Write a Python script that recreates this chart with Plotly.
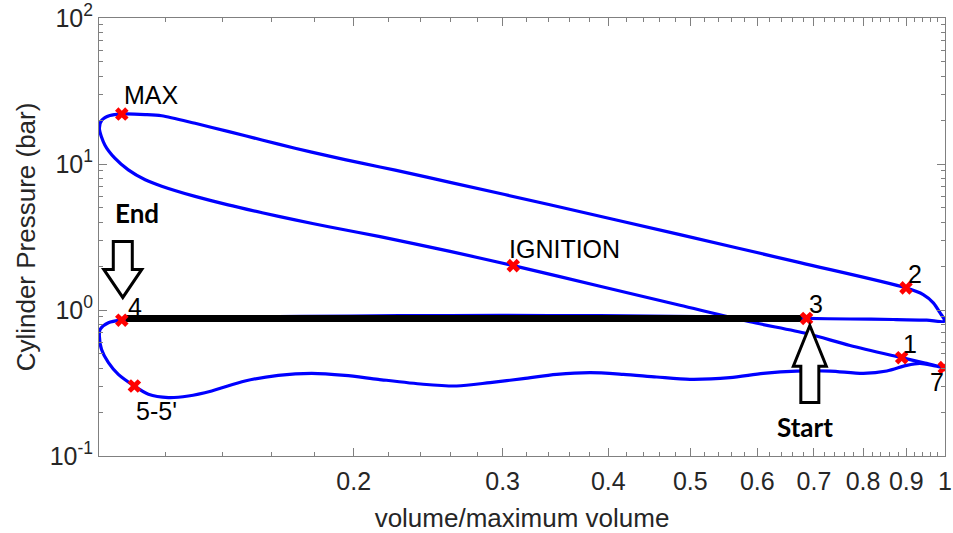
import math
import plotly.graph_objects as go

# ---- data ----
# closed cycle, starting at point 3 (exhaust), through 4, 5-5', intake, 7, 1, compression,
# ignition, MAX, expansion, 2, blowdown, back to 3
volume = [
    0.686, 0.588, 0.448, 0.341, 0.260, 0.198, 0.151, 0.125, 0.112, 0.1064,
    0.1026, 0.1003, 0.1001, 0.1007, 0.1026, 0.1054, 0.1101,
    0.1144, 0.1208, 0.1275, 0.1359, 0.1488, 0.1629, 0.1784, 0.1953, 0.2138, 0.2416,
    0.2647, 0.2900, 0.3173, 0.3475, 0.3805, 0.4166, 0.4562, 0.4995, 0.5569, 0.6097,
    0.6680, 0.7313, 0.8007, 0.8535, 0.9010, 0.9341, 0.9732, 0.998,
    0.9471, 0.8888, 0.7722, 0.6864, 0.5880, 0.4861, 0.3910, 0.3088,
    0.2600, 0.2149, 0.1875, 0.1705, 0.1559, 0.1421, 0.1299, 0.1186, 0.1134, 0.1083,
    0.1044, 0.1016, 0.1001, 0.1008, 0.1030, 0.1064,
    0.1134, 0.1186, 0.1299, 0.1424, 0.1558, 0.1705, 0.1866, 0.2044, 0.2239, 0.2600,
    0.3412, 0.4861, 0.6740, 0.8993,
    0.9425, 0.9687, 0.9865, 0.999, 0.9515, 0.8688, 0.7722, 0.686,
]
pressure = [
    0.875, 0.889, 0.910, 0.917, 0.917, 0.910, 0.896, 0.875, 0.861, 0.852,
    0.818, 0.736, 0.662, 0.537, 0.436, 0.3625, 0.3016,
    0.2648, 0.2513, 0.2577, 0.2789, 0.3264, 0.3569, 0.3684, 0.3569, 0.3352, 0.3099,
    0.3016, 0.3183, 0.3389, 0.3625, 0.3724, 0.3625, 0.3475, 0.3352, 0.3442, 0.3684,
    0.3819, 0.3819, 0.3684, 0.3819, 0.4176, 0.4311, 0.414, 0.403,
    0.4331, 0.4716, 0.571, 0.69, 0.83, 1.078, 1.454, 2.014,
    2.520, 3.180, 3.700, 4.140, 4.640, 5.250, 6.000, 7.050, 7.800, 9.114,
    10.96, 13.5, 17.56, 20.0, 21.48, 21.99,
    21.82, 21.41, 19.0, 16.65, 14.61, 12.82, 11.36, 10.13, 9.07, 7.49,
    5.26, 3.28, 2.11, 1.418,
    1.276, 1.12, 0.957, 0.839, 0.852, 0.861, 0.868, 0.875,
]

# thick black line between point 4 and point 3
black_volume = [0.1075, 0.677]
black_pressure = [0.875, 0.875]

# labelled points
marker_names = ["MAX", "IGNITION", "2", "3", "1", "7", "4", "5-5'"]
marker_volume = [0.1064, 0.3088, 0.8993, 0.686, 0.8888, 0.998, 0.1064, 0.1101]
marker_pressure = [21.99, 2.014, 1.418, 0.875, 0.4716, 0.403, 0.852, 0.3016]

x_tick_vals = [0.2, 0.3, 0.4, 0.5, 0.6, 0.7, 0.8, 0.9, 1.0]
x_tick_text = ["0.2", "0.3", "0.4", "0.5", "0.6", "0.7", "0.8", "0.9", "1"]
x_minor_vals = [round(0.1 + 0.02 * i, 2) for i in range(1, 46) if round(0.1 + 0.02 * i, 2) not in x_tick_vals]
y_tick_vals = [0.1, 1, 10, 100]
y_tick_text = ["10<sup>-1</sup>", "10<sup>0</sup>", "10<sup>1</sup>", "10<sup>2</sup>"]
y_minor_vals = [m * d for d in (0.1, 1, 10) for m in range(2, 10)]

FONT = "Liberation Sans, Arial, Helvetica, sans-serif"
AXIS_COLOR = "#808080"
TEXT_COLOR = "#262626"

fig = go.Figure()
fig.add_trace(go.Scatter(x=volume, y=pressure, mode="lines",
                         line=dict(color="#0000ff", width=3.2, shape="spline", smoothing=0.8),
                         hoverinfo="skip", showlegend=False))
fig.add_trace(go.Scatter(x=black_volume, y=black_pressure, mode="lines",
                         line=dict(color="#000000", width=7), hoverinfo="skip", showlegend=False))
fig.add_trace(go.Scatter(x=marker_volume, y=marker_pressure, mode="markers",
                         marker=dict(symbol="x", size=12, color="#ff0000", line=dict(width=0)),
                         showlegend=False))

# point labels (offsets in pixels)
label_style = {
    "MAX": (0, 19, "left"), "IGNITION": (-6, 17, "left"), "2": (0, 14, "left"),
    "3": (0, 14, "left"), "1": (-1, 14, "left"), "7": (2, -14, "right"),
    "4": (4, 13, "left"), "5-5'": (0, -25, "left"),
}
for name, v, p in zip(marker_names, marker_volume, marker_pressure):
    dx, dy, anchor = label_style[name]
    fig.add_annotation(x=math.log10(v), y=math.log10(p), text=name, showarrow=False,
                       xanchor=anchor, yanchor="middle", xshift=dx, yshift=dy,
                       font=dict(family=FONT, size=25, color="#000000"))

# "End" and "Start" hollow arrows, anchored at points 4 and 3
v4, p4 = marker_volume[6], marker_pressure[6]
v3, p3 = marker_volume[3], marker_pressure[3]
end_path = "M -8.5,78.7 L 10.5,78.7 L 10.5,50.7 L 20,50.7 L 1,22.7 L -18,50.7 L -8.5,50.7 Z"
start_path = "M 3.3,-7 L 19.8,-47.7 L 12.3,-47.7 L 12.3,-84 L -5.7,-84 L -5.7,-47.7 L -13.2,-47.7 Z"
for path, v, p in ((end_path, v4, p4), (start_path, v3, p3)):
    fig.add_shape(type="path", path=path, xref="x", yref="y",
                  xsizemode="pixel", ysizemode="pixel", xanchor=v, yanchor=p,
                  line=dict(color="#000000", width=3), fillcolor="#ffffff", layer="above")

fig.add_annotation(x=math.log10(v4), y=math.log10(p4), text="<b>End</b>", showarrow=False,
                   xanchor="center", yanchor="middle", xshift=15, yshift=107,
                   font=dict(family="Lato, Carlito, sans-serif", size=26, color="#000000"))
fig.add_annotation(x=math.log10(v3), y=math.log10(p3), text="<b>Start</b>", showarrow=False,
                   xanchor="center", yanchor="middle", xshift=-2, yshift=-109,
                   font=dict(family="Lato, Carlito, sans-serif", size=26, color="#000000"))

axis_common = dict(
    type="log", showgrid=False, zeroline=False, showline=True, linecolor=AXIS_COLOR, linewidth=1,
    mirror="ticks", ticks="inside", ticklen=8, tickcolor=AXIS_COLOR, tickwidth=1, automargin=False,
    tickfont=dict(family=FONT, size=25, color=TEXT_COLOR),
)
fig.update_xaxes(**axis_common, range=[-1, 0], tickmode="array", tickvals=x_tick_vals, ticktext=x_tick_text,
                 ticklabelstandoff=3,
                 minor=dict(tickmode="array", tickvals=x_minor_vals, ticks="inside", ticklen=4,
                            tickcolor=AXIS_COLOR, showgrid=False),
                 title=dict(text="volume/maximum volume", font=dict(family=FONT, size=26, color=TEXT_COLOR),
                            standoff=14))
fig.update_yaxes(**axis_common, range=[-1, 2], tickmode="array", tickvals=y_tick_vals, ticktext=y_tick_text,
                 minor=dict(tickmode="array", tickvals=y_minor_vals, ticks="inside", ticklen=4,
                            tickcolor=AXIS_COLOR, showgrid=False),
                 title=dict(text="Cylinder Pressure (bar)", font=dict(family=FONT, size=26, color=TEXT_COLOR),
                            standoff=6))

fig.update_layout(
    width=953, height=533,
    margin=dict(l=99, r=8, t=18, b=77),
    paper_bgcolor="#ffffff", plot_bgcolor="#ffffff",
    showlegend=False,
)

fig.write_html("out.html")
